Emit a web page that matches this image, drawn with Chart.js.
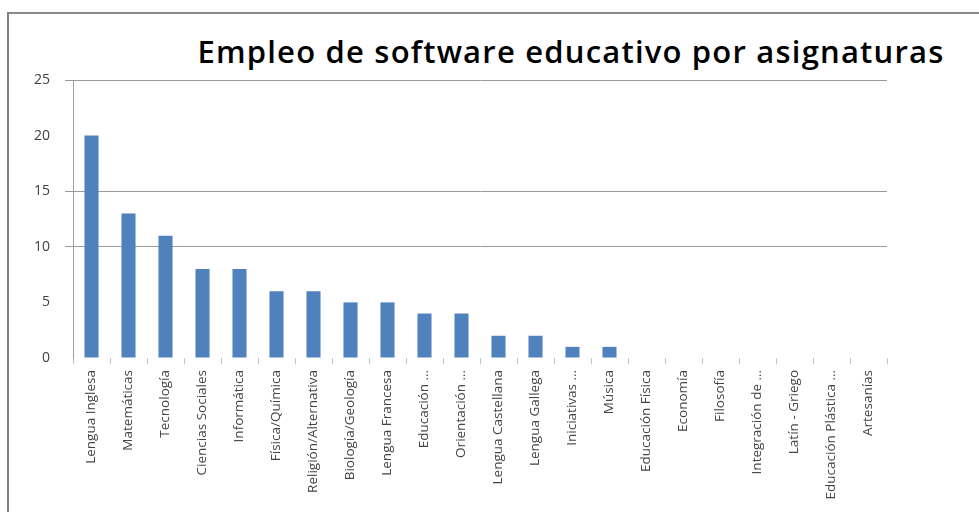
<!DOCTYPE html>
<html>
<head>
<meta charset="utf-8">
<script src="https://cdn.jsdelivr.net/npm/chart.js@4/dist/chart.umd.min.js"></script>
<style>
  html, body { margin: 0; padding: 0; background: #fff; }
  #wrap { position: relative; width: 979px; height: 512px; overflow: hidden; }
  #frame { position: absolute; left: 7px; top: 12px; width: 980px; height: 510px;
           border-left: 2px solid #808080; border-top: 2px solid #8a8a8a; }
  #title { position: absolute; left: 171px; top: 37px; width: 800px; text-align: center;
           white-space: nowrap; font-family: "Open Sans", sans-serif; font-weight: 600;
           font-size: 31px; letter-spacing: 1.2px; line-height: 28px; color: #000; }
  canvas { position: absolute; left: 0; top: 0; }
</style>
</head>
<body>
<div id="wrap">
  <div id="frame"></div>
  <div id="title">Empleo de software educativo por asignaturas</div>
  <canvas id="c" width="979" height="512"></canvas>
</div>
<script>
const categories = [
  "Lengua Inglesa", "Matemáticas", "Tecnología", "Ciencias Sociales", "Informática",
  "Física/Química", "Religión/Alternativa", "Biología/Geología", "Lengua Francesa",
  "Educación …", "Orientación …", "Lengua Castellana", "Lengua Gallega", "Iniciativas …",
  "Música", "Educación Física", "Economía", "Filosofía", "Integración de …",
  "Latín - Griego", "Educación Plástica …", "Artesanías"
];
const values = [20, 13, 11, 8, 8, 6, 6, 5, 5, 4, 4, 2, 2, 1, 1, 0, 0, 0, 0, 0, 0, 0];
const yTicks = [0, 5, 10, 15, 20, 25];
const visibleGridValues = [10, 15, 25];

const gridColor = (ctx) => (ctx.tick && visibleGridValues.includes(ctx.tick.value)) ? '#9a9a9a' : 'rgba(0,0,0,0)';

new Chart(document.getElementById('c'), {
  type: 'bar',
  data: {
    labels: categories,
    datasets: [{
      data: values,
      backgroundColor: '#4F81BD',
      borderWidth: 0,
      categoryPercentage: 0.38,
      barPercentage: 1
    }]
  },
  options: {
    responsive: false,
    animation: false,
    layout: { padding: { left: 0, right: 92, top: 80, bottom: 0 } },
    plugins: { legend: { display: false }, title: { display: false }, tooltip: { enabled: false } },
    scales: {
      x: {
        grid: { drawOnChartArea: false, drawTicks: true, tickLength: 6, color: '#c4c4c4', offset: true },
        border: { display: false },
        ticks: {
          autoSkip: false, minRotation: 90, maxRotation: 90, padding: 6,
          color: '#454545', font: { family: 'Open Sans', size: 13.5 }
        },
        afterFit: (scale) => { scale.height = 154; }
      },
      y: {
        min: 0, max: 25,
        afterBuildTicks: (scale) => { scale.ticks = yTicks.map(v => ({ value: v })); },
        grid: { color: gridColor, tickColor: gridColor, tickLength: 8, lineWidth: 1 },
        border: { display: true, color: '#a0a0a0', width: 1 },
        ticks: { padding: 15, color: '#404040', font: { family: 'Open Sans', size: 14 } },
        afterFit: (scale) => { scale.width = 73; }
      }
    }
  }
});
</script>
</body>
</html>
